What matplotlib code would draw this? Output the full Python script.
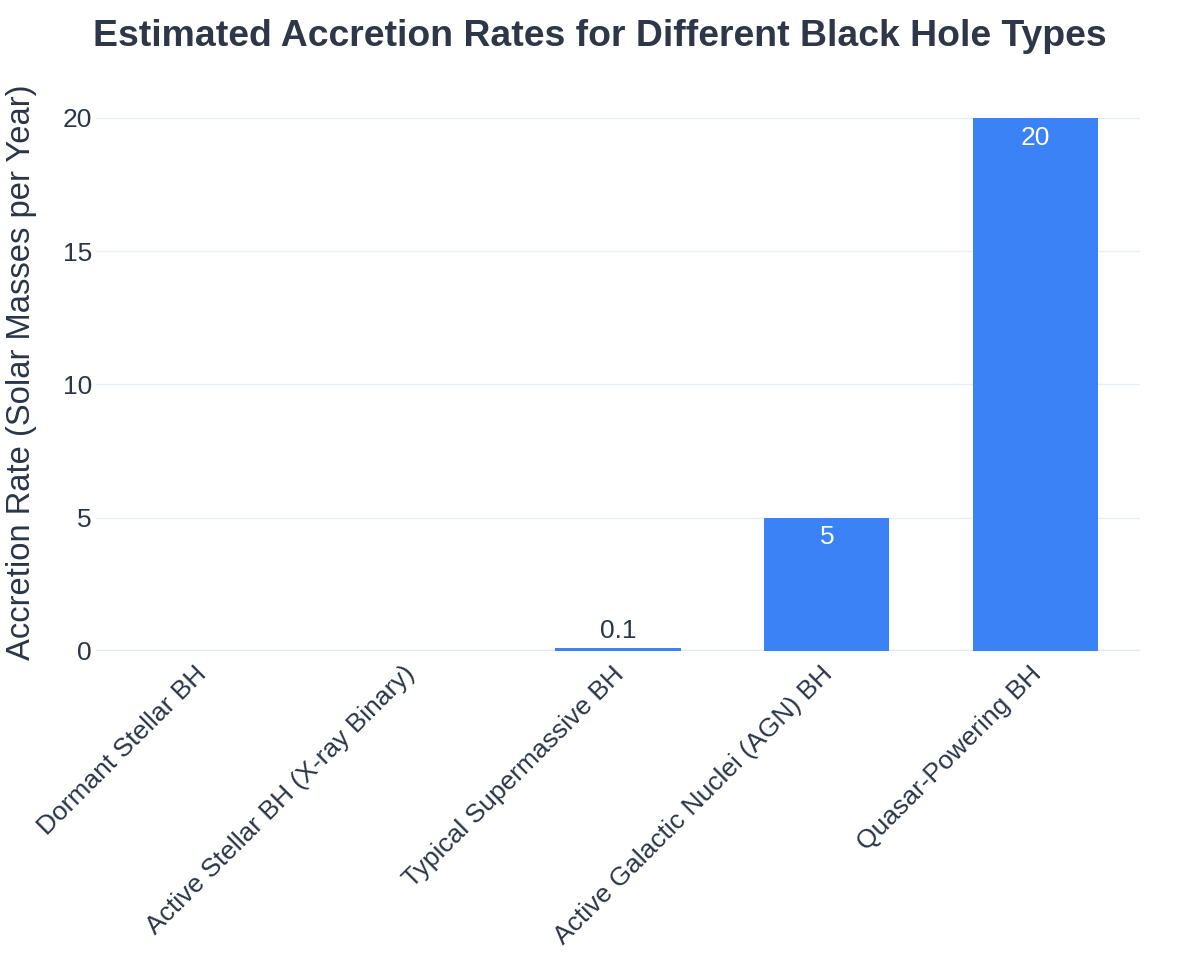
import matplotlib
matplotlib.use("Agg")
import matplotlib.pyplot as plt
import matplotlib.transforms as mtransforms

categories = ["Dormant Stellar BH", "Active Stellar BH (X-ray Binary)",
              "Typical Supermassive BH", "Active Galactic Nuclei (AGN) BH",
              "Quasar-Powering BH"]
values = [1e-15, 1e-8, 0.1, 5, 20]
labels = ["", "", "0.1", "5", "20"]
yticks = [0, 5, 10, 15, 20]

plt.rcParams['font.family'] = ['Liberation Sans', 'DejaVu Sans']
fig = plt.figure(figsize=(12, 9.75), dpi=100)
L, R, B, T = 96, 1140, 651, 90
ax = fig.add_axes([L/1200, 1-B/975, (R-L)/1200, (B-T)/975])

bar_color = "#3b82f6"
text_color = "#2a3547"
fs = 19.0
x = list(range(len(categories)))
ax.bar(x, values, width=0.6, color=bar_color, zorder=3)
ax.set_xlim(-0.5, len(categories)-0.5)
ax.set_ylim(0, 21.05)
ax.set_yticks(yticks)
ax.set_yticklabels([str(v) for v in yticks], fontsize=fs, color=text_color)
ax.set_xticks(x)
ax.set_xticklabels(categories, rotation=45, ha='right', va='center',
                   rotation_mode='anchor', fontsize=fs, color=text_color)
ax.tick_params(axis='y', length=0, pad=3)
ax.tick_params(axis='x', length=0, pad=14)
shift = mtransforms.ScaledTranslation(2/100, 0, fig.dpi_scale_trans)
for lab in ax.get_xticklabels():
    lab.set_transform(lab.get_transform() + shift)
for s in ax.spines.values():
    s.set_visible(False)
ax.grid(axis='y', color='#e9eef5', linewidth=1, zorder=0)
ax.axhline(0, color='#e1e8f2', linewidth=2.5, zorder=2)
ax.set_axisbelow(True)

for xi, v, lab in zip(x, values, labels):
    if not lab:
        continue
    if v > 1:
        ax.annotate(lab, (xi, v), xytext=(0, -5.5), textcoords='offset points',
                    ha='center', va='top', color='white', fontsize=fs)
    else:
        ax.annotate(lab, (xi, v), xytext=(0, 3.5), textcoords='offset points',
                    ha='center', va='bottom', color=text_color, fontsize=fs)

ax.set_ylabel("Accretion Rate (Solar Masses per Year)", fontsize=23.6,
              color=text_color)
ax.yaxis.set_label_coords((22-L)/(R-L), (B-372.5)/(B-T))
ax.yaxis.label.set_verticalalignment('center')
fig.suptitle("Estimated Accretion Rates for Different Black Hole Types",
             x=0.5, y=1-36/975, va='center', fontsize=26.9, fontweight='bold',
             color="#2d3748")
fig.savefig("out.png", dpi=100, facecolor='white')
